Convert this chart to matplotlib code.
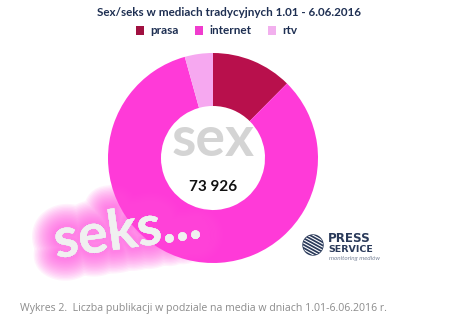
import numpy as np
import matplotlib as mpl
import matplotlib.pyplot as plt
import matplotlib.patheffects as pe
from matplotlib.patches import Circle

mpl.use("Agg")

# data
labels = ["prasa", "internet", "rtv"]
values = [9200, 61526, 3200]
colors = ["#B8104C", "#FF3AD8", "#F6A8F0"]
total_label = "73 926"
title = "Sex/seks w mediach tradycyjnych 1.01 - 6.06.2016"
caption = "Wykres 2.  Liczba publikacji w podziale na media w dniach 1.01-6.06.2016 r."

W, H = 474, 328
navy = "#1E2F52"

plt.rcParams["font.family"] = ["Lato", "DejaVu Sans"]

fig = plt.figure(figsize=(W / 100, H / 100), dpi=100)
ax = fig.add_axes([0, 0, 1, 1])


def py(y):
    # pixel row (from top) -> data y
    return H - y


cx, cy = 213, py(158)
wedges, _ = ax.pie(
    values,
    colors=colors,
    startangle=90,
    counterclock=False,
    center=(cx, cy),
    radius=105,
    wedgeprops=dict(width=53, edgecolor="none"),
    frame=True,
)
ax.set_xlim(0, W)
ax.set_ylim(0, H)
ax.set_aspect("equal")
ax.axis("off")

# centre texts
ax.text(cx, py(140), "sex", ha="center", va="center", fontsize=40,
        fontweight="bold", color="#D4D4D4")
ax.text(cx, py(187), total_label, ha="center", va="center", fontsize=11,
        fontweight="bold", color="#111111")

# glowing "seks..." - soft glow from many thin translucent strokes
glow = [pe.withStroke(linewidth=w, foreground="#FF4FE0", alpha=0.07)
        for w in range(34, 2, -2)]
ax.text(127, py(232), "seks...", ha="center", va="center", fontsize=40,
        fontweight="bold", color="#F0F0F0", rotation=8, path_effects=glow)

# title and legend
fig.text(0.483, 1 - 12 / H, title, ha="center", va="center", fontsize=8.4,
         fontweight="bold", color=navy)
fig.legend(wedges, labels, ncol=3, loc="center",
           bbox_to_anchor=(0.457, 1 - 31 / H), frameon=False,
           handlelength=0.7, handleheight=0.7, columnspacing=1.4,
           handletextpad=0.5, prop=dict(weight="bold", size=8.5),
           labelcolor=navy)
for h, c in zip(fig.legends[0].legend_handles, ["#A01040", "#F03CCE", "#F2B0EE"]):
    h.set_facecolor(c)

# logo
lx, ly = 313, py(245)
logo = Circle((lx, ly), 10, color="#2A3A5A")
ax.add_patch(logo)
for k in range(-3, 4):
    t = np.linspace(-12, 12, 2)
    ln, = ax.plot(lx + t + k * 3.2, ly - t * 0.55 + k * 1.5, color="white", lw=0.8)
    ln.set_clip_path(logo)
ax.text(328, py(238), "PRESS", fontsize=8.6, fontweight="bold", color="#2A3A5A",
        va="center", ha="left", family="DejaVu Sans")
ax.text(328, py(249), "SERVICE", fontsize=6.8, fontweight="bold", color="#2A3A5A",
        va="center", ha="left", family="DejaVu Sans")
ax.text(329, py(258), "monitoring mediów", fontsize=4.6, color="#7A8599",
        va="center", ha="left", style="italic")

# caption
fig.text(20 / W, 1 - 308 / H, caption, ha="left", va="center", fontsize=7.6,
         color="#8C8C8C", family=["Open Sans", "DejaVu Sans"])

fig.savefig("out.png", dpi=100)
